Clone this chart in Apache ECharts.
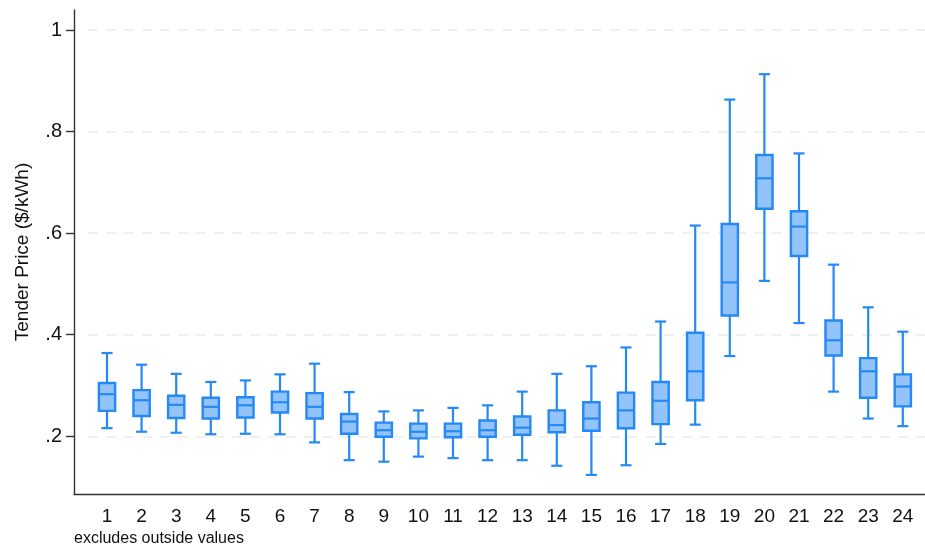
<!DOCTYPE html>
<html>
<head>
<meta charset="utf-8">
<script src="https://cdn.jsdelivr.net/npm/echarts@6/dist/echarts.min.js"></script>
<style>
  html, body { margin: 0; padding: 0; background: #fff; }
  #chart { width: 925px; height: 548px; }
</style>
</head>
<body>
<div id="chart"></div>
<script>
// Hour of day (categories)
var hours = ['1','2','3','4','5','6','7','8','9','10','11','12','13','14','15','16','17','18','19','20','21','22','23','24'];
// Box-plot statistics per hour, $/kWh (whiskers exclude outside values)
var whiskerLow  = [0.216,0.209,0.207,0.204,0.205,0.204,0.188,0.153,0.150,0.160,0.157,0.153,0.153,0.142,0.124,0.143,0.185,0.223,0.358,0.506,0.423,0.288,0.235,0.220];
var quartile1   = [0.250,0.240,0.236,0.235,0.237,0.247,0.235,0.205,0.199,0.196,0.198,0.199,0.203,0.208,0.211,0.216,0.224,0.271,0.438,0.648,0.555,0.359,0.276,0.259];
var medians     = [0.283,0.271,0.262,0.258,0.261,0.267,0.258,0.229,0.212,0.209,0.210,0.212,0.217,0.222,0.235,0.251,0.270,0.328,0.503,0.708,0.613,0.389,0.328,0.298];
var quartile3   = [0.305,0.291,0.280,0.276,0.277,0.288,0.285,0.244,0.227,0.225,0.225,0.231,0.239,0.251,0.267,0.286,0.307,0.404,0.618,0.754,0.643,0.428,0.354,0.322];
var whiskerHigh = [0.364,0.341,0.323,0.307,0.310,0.322,0.343,0.287,0.249,0.251,0.256,0.261,0.288,0.323,0.338,0.375,0.426,0.615,0.863,0.913,0.757,0.538,0.454,0.406];
// Y-axis tick values
var yTicks = [0.2, 0.4, 0.6, 0.8, 1];
var yTickLabels = ['.2', '.4', '.6', '.8', '1'];

var Y_MIN = 0.0864, Y_MAX = 1.0394;
var FONT = "'Liberation Sans', Arial, sans-serif";
var STROKE = '#2589f5';
var FILL = '#93c3fb';

var boxData = hours.map(function (h, i) {
  return [i, whiskerLow[i], quartile1[i], medians[i], quartile3[i], whiskerHigh[i]];
});

function renderBox(params, api) {
  var x = api.value(0);
  var band = api.size([1, 0])[0];
  var halfBox = band * 0.235;
  var halfCap = band * 0.16;
  var pLow = api.coord([x, api.value(1)]);
  var pQ1 = api.coord([x, api.value(2)]);
  var pMed = api.coord([x, api.value(3)]);
  var pQ3 = api.coord([x, api.value(4)]);
  var pHigh = api.coord([x, api.value(5)]);
  var cx = pMed[0];
  var lineStyle = { stroke: STROKE, lineWidth: 2.2, fill: null };
  return {
    type: 'group',
    children: [
      { type: 'line', shape: { x1: cx, y1: pQ1[1], x2: cx, y2: pLow[1] }, style: lineStyle },
      { type: 'line', shape: { x1: cx, y1: pQ3[1], x2: cx, y2: pHigh[1] }, style: lineStyle },
      { type: 'line', shape: { x1: cx - halfCap, y1: pLow[1], x2: cx + halfCap, y2: pLow[1] }, style: lineStyle },
      { type: 'line', shape: { x1: cx - halfCap, y1: pHigh[1], x2: cx + halfCap, y2: pHigh[1] }, style: lineStyle },
      { type: 'rect', shape: { x: cx - halfBox, y: pQ3[1], width: halfBox * 2, height: pQ1[1] - pQ3[1] },
        style: { fill: FILL, stroke: STROKE, lineWidth: 2.4 } },
      { type: 'line', shape: { x1: cx - halfBox, y1: pMed[1], x2: cx + halfBox, y2: pMed[1] }, style: lineStyle }
    ]
  };
}

var chart = echarts.init(document.getElementById('chart'), null, { renderer: 'canvas' });

chart.setOption({
  animation: false,
  backgroundColor: '#fff',
  textStyle: { fontFamily: FONT },
  title: {
    text: 'excludes outside values',
    left: 74, top: 531, padding: 0,
    textStyle: { fontFamily: FONT, fontSize: 16, fontWeight: 'normal', color: '#111' }
  },
  grid: [
    // frame: axis lines, y ticks and labels
    { left: 74, right: 0, top: 10, bottom: 54 },
    // horizontal grid lines
    { left: 88, right: 0, top: 10, bottom: 54 },
    // boxes
    { left: 89.7, right: 4.9, top: 10, bottom: 54 }
  ],
  xAxis: [
    { gridIndex: 0, type: 'value', min: 0, max: 1,
      axisLine: { show: true, lineStyle: { color: '#333', width: 1.4 } },
      axisTick: { show: false }, axisLabel: { show: false }, splitLine: { show: false } },
    { gridIndex: 1, type: 'value', min: 0, max: 1, show: false },
    { gridIndex: 2, type: 'category', data: hours, boundaryGap: true,
      axisLine: { show: false }, axisTick: { show: false }, splitLine: { show: false },
      axisLabel: { margin: 13, fontSize: 19, color: '#111', fontFamily: FONT, interval: 0 } }
  ],
  yAxis: [
    { gridIndex: 0, type: 'value', min: Y_MIN, max: Y_MAX,
      name: 'Tender Price ($/kWh)', nameLocation: 'middle', nameGap: 42,
      nameTextStyle: { fontSize: 19, color: '#111', fontFamily: FONT },
      axisLine: { show: true, lineStyle: { color: '#333', width: 1.4 } },
      axisTick: { show: true, length: 8, customValues: yTicks, lineStyle: { color: '#333', width: 1.4 } },
      axisLabel: { customValues: yTicks, margin: 12, fontSize: 20, color: '#111', fontFamily: FONT,
        formatter: function (v) {
          for (var i = 0; i < yTicks.length; i++) {
            if (Math.abs(v - yTicks[i]) < 1e-9) return yTickLabels[i];
          }
          return '';
        } },
      splitLine: { show: false } },
    { gridIndex: 1, type: 'value', min: Y_MIN, max: Y_MAX,
      axisLine: { show: false }, axisLabel: { show: false },
      axisTick: { show: false, customValues: yTicks },
      splitLine: { show: true, lineStyle: { color: '#ebebeb', width: 1.6, type: [10, 8] } } },
    { gridIndex: 2, type: 'value', min: Y_MIN, max: Y_MAX, show: false }
  ],
  series: [
    { type: 'scatter', xAxisIndex: 0, yAxisIndex: 0, data: [], silent: true },
    { type: 'scatter', xAxisIndex: 1, yAxisIndex: 1, data: [], silent: true },
    {
      type: 'custom',
      xAxisIndex: 2, yAxisIndex: 2,
      renderItem: renderBox,
      encode: { x: 0, y: [1, 2, 3, 4, 5] },
      data: boxData,
      z: 5
    }
  ]
});
</script>
</body>
</html>
